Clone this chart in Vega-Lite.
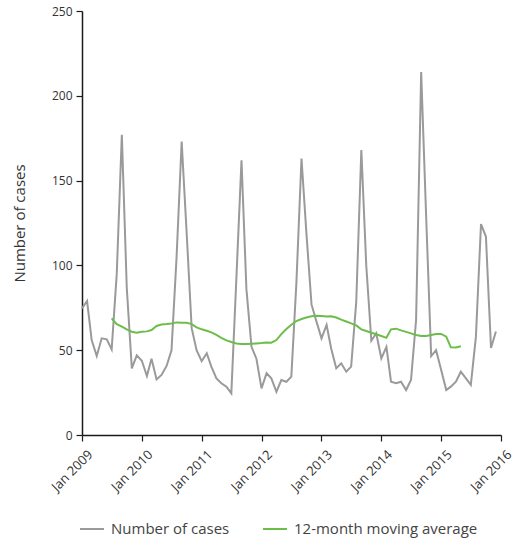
{
  "$schema": "https://vega.github.io/schema/vega-lite/v6.json",
  "width": 419,
  "height": 424,
  "autosize": {"type": "none"},
  "padding": {"left": 82, "top": 11, "right": 26, "bottom": 114},
  "background": "white",
  "config": {
    "view": {"stroke": null},
    "font": "Open Sans",
    "axis": {"grid": false, "domainColor": "#1a1a1a", "tickColor": "#1a1a1a", "domainWidth": 1.5, "tickWidth": 1.2, "tickSize": 6, "labelColor": "#333333", "labelFont": "Open Sans", "labelFontSize": 12, "titleFont": "Open Sans", "titleFontWeight": "normal", "titleColor": "#333333"}
  },
  "data": {"values": [
    {"d":"2009-01-01","v":74.7,"s":"Number of cases"},{"d":"2009-02-01","v":79,"s":"Number of cases"},{"d":"2009-03-01","v":56,"s":"Number of cases"},{"d":"2009-04-01","v":46.6,"s":"Number of cases"},{"d":"2009-05-01","v":57,"s":"Number of cases"},{"d":"2009-06-01","v":56.4,"s":"Number of cases"},{"d":"2009-07-01","v":50.5,"s":"Number of cases"},{"d":"2009-08-01","v":95,"s":"Number of cases"},{"d":"2009-09-01","v":177,"s":"Number of cases"},{"d":"2009-10-01","v":87,"s":"Number of cases"},{"d":"2009-11-01","v":39.3,"s":"Number of cases"},{"d":"2009-12-01","v":47,"s":"Number of cases"},
    {"d":"2010-01-01","v":43.8,"s":"Number of cases"},{"d":"2010-02-01","v":34.8,"s":"Number of cases"},{"d":"2010-03-01","v":45,"s":"Number of cases"},{"d":"2010-04-01","v":32.8,"s":"Number of cases"},{"d":"2010-05-01","v":35.4,"s":"Number of cases"},{"d":"2010-06-01","v":40.7,"s":"Number of cases"},{"d":"2010-07-01","v":50,"s":"Number of cases"},{"d":"2010-08-01","v":105,"s":"Number of cases"},{"d":"2010-09-01","v":173,"s":"Number of cases"},{"d":"2010-10-01","v":120,"s":"Number of cases"},{"d":"2010-11-01","v":63,"s":"Number of cases"},{"d":"2010-12-01","v":50,"s":"Number of cases"},
    {"d":"2011-01-01","v":43.5,"s":"Number of cases"},{"d":"2011-02-01","v":48.2,"s":"Number of cases"},{"d":"2011-03-01","v":40.3,"s":"Number of cases"},{"d":"2011-04-01","v":33.4,"s":"Number of cases"},{"d":"2011-05-01","v":30.5,"s":"Number of cases"},{"d":"2011-06-01","v":28.5,"s":"Number of cases"},{"d":"2011-07-01","v":24.6,"s":"Number of cases"},{"d":"2011-08-01","v":93,"s":"Number of cases"},{"d":"2011-09-01","v":162,"s":"Number of cases"},{"d":"2011-10-01","v":86,"s":"Number of cases"},{"d":"2011-11-01","v":52,"s":"Number of cases"},{"d":"2011-12-01","v":45,"s":"Number of cases"},
    {"d":"2012-01-01","v":27.5,"s":"Number of cases"},{"d":"2012-02-01","v":36.4,"s":"Number of cases"},{"d":"2012-03-01","v":33.4,"s":"Number of cases"},{"d":"2012-04-01","v":25.5,"s":"Number of cases"},{"d":"2012-05-01","v":32.4,"s":"Number of cases"},{"d":"2012-06-01","v":31.4,"s":"Number of cases"},{"d":"2012-07-01","v":34.4,"s":"Number of cases"},{"d":"2012-08-01","v":90,"s":"Number of cases"},{"d":"2012-09-01","v":163,"s":"Number of cases"},{"d":"2012-10-01","v":119,"s":"Number of cases"},{"d":"2012-11-01","v":77,"s":"Number of cases"},{"d":"2012-12-01","v":67,"s":"Number of cases"},
    {"d":"2013-01-01","v":57,"s":"Number of cases"},{"d":"2013-02-01","v":64.9,"s":"Number of cases"},{"d":"2013-03-01","v":51,"s":"Number of cases"},{"d":"2013-04-01","v":39.3,"s":"Number of cases"},{"d":"2013-05-01","v":42.3,"s":"Number of cases"},{"d":"2013-06-01","v":37.3,"s":"Number of cases"},{"d":"2013-07-01","v":40.3,"s":"Number of cases"},{"d":"2013-08-01","v":78.6,"s":"Number of cases"},{"d":"2013-09-01","v":168,"s":"Number of cases"},{"d":"2013-10-01","v":100,"s":"Number of cases"},{"d":"2013-11-01","v":55.6,"s":"Number of cases"},{"d":"2013-12-01","v":60,"s":"Number of cases"},
    {"d":"2014-01-01","v":45.2,"s":"Number of cases"},{"d":"2014-02-01","v":52,"s":"Number of cases"},{"d":"2014-03-01","v":31.4,"s":"Number of cases"},{"d":"2014-04-01","v":30.5,"s":"Number of cases"},{"d":"2014-05-01","v":31.4,"s":"Number of cases"},{"d":"2014-06-01","v":26.5,"s":"Number of cases"},{"d":"2014-07-01","v":32.4,"s":"Number of cases"},{"d":"2014-08-01","v":67.8,"s":"Number of cases"},{"d":"2014-09-01","v":214,"s":"Number of cases"},{"d":"2014-10-01","v":130,"s":"Number of cases"},{"d":"2014-11-01","v":46.5,"s":"Number of cases"},{"d":"2014-12-01","v":50,"s":"Number of cases"},
    {"d":"2015-01-01","v":38.3,"s":"Number of cases"},{"d":"2015-02-01","v":26.5,"s":"Number of cases"},{"d":"2015-03-01","v":28.5,"s":"Number of cases"},{"d":"2015-04-01","v":31.4,"s":"Number of cases"},{"d":"2015-05-01","v":37.3,"s":"Number of cases"},{"d":"2015-06-01","v":33.4,"s":"Number of cases"},{"d":"2015-07-01","v":29.5,"s":"Number of cases"},{"d":"2015-08-01","v":58,"s":"Number of cases"},{"d":"2015-09-01","v":124.4,"s":"Number of cases"},{"d":"2015-10-01","v":117,"s":"Number of cases"},{"d":"2015-11-01","v":51.3,"s":"Number of cases"},{"d":"2015-12-01","v":61,"s":"Number of cases"},
    {"d":"2009-07-01","v":68.8,"s":"12-month moving average"},{"d":"2009-08-01","v":65.4,"s":"12-month moving average"},{"d":"2009-09-01","v":63.9,"s":"12-month moving average"},{"d":"2009-10-01","v":62.3,"s":"12-month moving average"},{"d":"2009-11-01","v":60.9,"s":"12-month moving average"},{"d":"2009-12-01","v":60.3,"s":"12-month moving average"},
    {"d":"2010-01-01","v":60.9,"s":"12-month moving average"},{"d":"2010-02-01","v":61.1,"s":"12-month moving average"},{"d":"2010-03-01","v":61.9,"s":"12-month moving average"},{"d":"2010-04-01","v":64.3,"s":"12-month moving average"},{"d":"2010-05-01","v":65.2,"s":"12-month moving average"},{"d":"2010-06-01","v":65.4,"s":"12-month moving average"},{"d":"2010-07-01","v":65.8,"s":"12-month moving average"},{"d":"2010-08-01","v":66.4,"s":"12-month moving average"},{"d":"2010-09-01","v":66.2,"s":"12-month moving average"},{"d":"2010-10-01","v":66.2,"s":"12-month moving average"},{"d":"2010-11-01","v":65.4,"s":"12-month moving average"},{"d":"2010-12-01","v":63.5,"s":"12-month moving average"},
    {"d":"2011-01-01","v":62.3,"s":"12-month moving average"},{"d":"2011-02-01","v":61.5,"s":"12-month moving average"},{"d":"2011-03-01","v":60.5,"s":"12-month moving average"},{"d":"2011-04-01","v":59,"s":"12-month moving average"},{"d":"2011-05-01","v":57.3,"s":"12-month moving average"},{"d":"2011-06-01","v":55.8,"s":"12-month moving average"},{"d":"2011-07-01","v":54.8,"s":"12-month moving average"},{"d":"2011-08-01","v":54,"s":"12-month moving average"},{"d":"2011-09-01","v":53.7,"s":"12-month moving average"},{"d":"2011-10-01","v":53.6,"s":"12-month moving average"},{"d":"2011-11-01","v":53.8,"s":"12-month moving average"},{"d":"2011-12-01","v":54,"s":"12-month moving average"},
    {"d":"2012-01-01","v":54.2,"s":"12-month moving average"},{"d":"2012-02-01","v":54.5,"s":"12-month moving average"},{"d":"2012-03-01","v":54.4,"s":"12-month moving average"},{"d":"2012-04-01","v":56,"s":"12-month moving average"},{"d":"2012-05-01","v":59.5,"s":"12-month moving average"},{"d":"2012-06-01","v":62.5,"s":"12-month moving average"},{"d":"2012-07-01","v":65,"s":"12-month moving average"},{"d":"2012-08-01","v":67.2,"s":"12-month moving average"},{"d":"2012-09-01","v":68.4,"s":"12-month moving average"},{"d":"2012-10-01","v":69.3,"s":"12-month moving average"},{"d":"2012-11-01","v":70,"s":"12-month moving average"},{"d":"2012-12-01","v":70.3,"s":"12-month moving average"},
    {"d":"2013-01-01","v":70.2,"s":"12-month moving average"},{"d":"2013-02-01","v":69.9,"s":"12-month moving average"},{"d":"2013-03-01","v":70,"s":"12-month moving average"},{"d":"2013-04-01","v":69.3,"s":"12-month moving average"},{"d":"2013-05-01","v":68,"s":"12-month moving average"},{"d":"2013-06-01","v":66.9,"s":"12-month moving average"},{"d":"2013-07-01","v":65.8,"s":"12-month moving average"},{"d":"2013-08-01","v":64.6,"s":"12-month moving average"},{"d":"2013-09-01","v":62.3,"s":"12-month moving average"},{"d":"2013-10-01","v":61.3,"s":"12-month moving average"},{"d":"2013-11-01","v":60.3,"s":"12-month moving average"},{"d":"2013-12-01","v":59.4,"s":"12-month moving average"},
    {"d":"2014-01-01","v":58.4,"s":"12-month moving average"},{"d":"2014-02-01","v":57.3,"s":"12-month moving average"},{"d":"2014-03-01","v":62.3,"s":"12-month moving average"},{"d":"2014-04-01","v":62.7,"s":"12-month moving average"},{"d":"2014-05-01","v":61.7,"s":"12-month moving average"},{"d":"2014-06-01","v":60.8,"s":"12-month moving average"},{"d":"2014-07-01","v":59.9,"s":"12-month moving average"},{"d":"2014-08-01","v":59,"s":"12-month moving average"},{"d":"2014-09-01","v":58.4,"s":"12-month moving average"},{"d":"2014-10-01","v":58.4,"s":"12-month moving average"},{"d":"2014-11-01","v":59,"s":"12-month moving average"},{"d":"2014-12-01","v":59.6,"s":"12-month moving average"},
    {"d":"2015-01-01","v":59.6,"s":"12-month moving average"},{"d":"2015-02-01","v":58,"s":"12-month moving average"},{"d":"2015-03-01","v":51.7,"s":"12-month moving average"},{"d":"2015-04-01","v":51.6,"s":"12-month moving average"},{"d":"2015-05-01","v":52.3,"s":"12-month moving average"}
  ]},
  "mark": {"type": "line", "strokeWidth": 2},
  "encoding": {
    "x": {
      "field": "d", "type": "temporal",
      "scale": {"type": "utc", "domain": [{"year": 2009, "month": 1, "date": 1, "utc": true}, {"year": 2016, "month": 1, "date": 1, "utc": true}], "nice": false},
      "axis": {
        "title": null, "labelExpr": "utcFormat(datum.value, '%b %Y')", "labelAngle": -45, "labelAlign": "right", "labelBaseline": "top", "labelPadding": 7, "labelOffset": 4, "labelFontSize": 13,
        "values": [
          {"year": 2009, "month": 1, "date": 1, "utc": true},
          {"year": 2010, "month": 1, "date": 1, "utc": true},
          {"year": 2011, "month": 1, "date": 1, "utc": true},
          {"year": 2012, "month": 1, "date": 1, "utc": true},
          {"year": 2013, "month": 1, "date": 1, "utc": true},
          {"year": 2014, "month": 1, "date": 1, "utc": true},
          {"year": 2015, "month": 1, "date": 1, "utc": true},
          {"year": 2016, "month": 1, "date": 1, "utc": true}
        ]
      }
    },
    "y": {
      "field": "v", "type": "quantitative",
      "scale": {"domain": [0, 250], "nice": false},
      "axis": {"title": "Number of cases", "values": [0, 50, 100, 150, 200, 250], "titleFontSize": 15, "titlePadding": 24, "labelPadding": 4}
    },
    "color": {
      "field": "s", "type": "nominal",
      "scale": {"domain": ["Number of cases", "12-month moving average"], "range": ["#9a9a9a", "#6dbd4a"]},
      "legend": {
        "title": null, "orient": "none", "direction": "horizontal", "legendX": -3, "legendY": 505,
        "symbolType": "stroke", "symbolSize": 576, "symbolStrokeWidth": 2, "labelFontSize": 15, "labelFont": "Open Sans", "labelColor": "#444444", "labelOffset": 6, "columnPadding": 29, "padding": 0, "labelLimit": 400
      }
    }
  }
}
